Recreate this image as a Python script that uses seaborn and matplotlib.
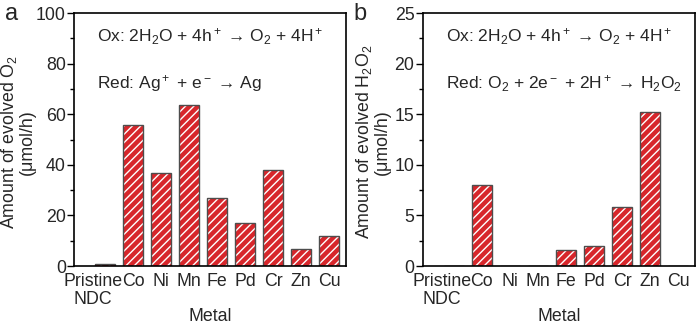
import numpy as np
import pandas as pd
import seaborn as sns
import matplotlib.pyplot as plt
import matplotlib.transforms as mtransforms
from matplotlib.ticker import MultipleLocator

# Data
metals = ['Pristine\nNDC', 'Co', 'Ni', 'Mn', 'Fe', 'Pd', 'Cr', 'Zn', 'Cu']
o2_rate = [0.7, 55.9, 36.8, 63.5, 26.8, 17.0, 38.1, 6.9, 11.9]
h2o2_rate = [0.0, 8.0, 0.0, 0.0, 1.6, 2.0, 5.8, 15.2, 0.0]

sns.set_theme(style='ticks')
plt.rcParams['font.family'] = ['Liberation Sans', 'DejaVu Sans']
plt.rcParams['mathtext.fontset'] = 'custom'
plt.rcParams['mathtext.rm'] = 'Liberation Sans'
plt.rcParams['mathtext.it'] = 'Liberation Sans'
plt.rcParams['mathtext.default'] = 'regular'
plt.rcParams['hatch.linewidth'] = 1.0

red = '#d7262b'
edge = '#4d4d4d'
fs = 12.8

fig = plt.figure(figsize=(7, 3.26), dpi=100)
ax_a = fig.add_axes([0.106, 0.184, 0.388, 0.776])
ax_b = fig.add_axes([0.604, 0.184, 0.389, 0.776])

panels = [
    (ax_a, o2_rate, 100, 20, 'Amount of evolved O$_2$\n(μmol/h)',
     'Red: Ag$^+$ + e$^-$ → Ag', 'a', -0.142),
    (ax_b, h2o2_rate, 25, 5, 'Amount of evolved H$_2$O$_2$\n(μmol/h)',
     'Red: O$_2$ + 2e$^-$ + 2H$^+$ → H$_2$O$_2$', 'b', -0.118),
]

for ax, vals, ymax, step, ylab, red_txt, letter, ylab_x in panels:
    df = pd.DataFrame({'Metal': metals, 'Rate': vals})
    # hatched red fill (hatch colour follows edgecolor -> white)
    sns.barplot(data=df, x='Metal', y='Rate', ax=ax, color=red, saturation=1,
                width=0.72, edgecolor='white', linewidth=0, hatch='////')
    # grey outline on top
    sns.barplot(data=df, x='Metal', y='Rate', ax=ax, color=edge, fill=False,
                width=0.72, linewidth=1.0)

    ax.set_xlim(-1.1, 8.6)
    ax.set_ylim(0, ymax)
    ax.yaxis.set_major_locator(MultipleLocator(step))
    ax.yaxis.set_minor_locator(MultipleLocator(step / 2))
    ax.tick_params(axis='y', which='major', length=5, width=1, labelsize=fs, pad=1, color='black')
    ax.tick_params(axis='y', which='minor', length=3, width=1, color='black')
    ax.tick_params(axis='x', length=0, labelsize=fs, pad=5)
    for sp in ax.spines.values():
        sp.set_color('black')
        sp.set_linewidth(1.2)

    # the two-line first label sits a little left of its bar
    lab0 = ax.get_xticklabels()[0]
    lab0.set_linespacing(1.1)
    lab0.set_transform(lab0.get_transform() +
                       mtransforms.ScaledTranslation(-0.12, 0, fig.dpi_scale_trans))

    ax.set_xlabel('Metal', fontsize=fs, labelpad=0)
    ax.set_ylabel(ylab, fontsize=12.8, linespacing=1.0)
    ax.yaxis.set_label_coords(ylab_x, 0.49)

    ax.text(0.085, 0.905, 'Ox: 2H$_2$O + 4h$^+$ → O$_2$ + 4H$^+$',
            transform=ax.transAxes, fontsize=12.5, va='center', ha='left')
    ax.text(0.085, 0.72, red_txt,
            transform=ax.transAxes, fontsize=12.5, va='center', ha='left')

    ax.text(-0.255, 1.04, letter, transform=ax.transAxes, fontsize=17, va='top', ha='left')

fig.savefig('out.png', dpi=100)
